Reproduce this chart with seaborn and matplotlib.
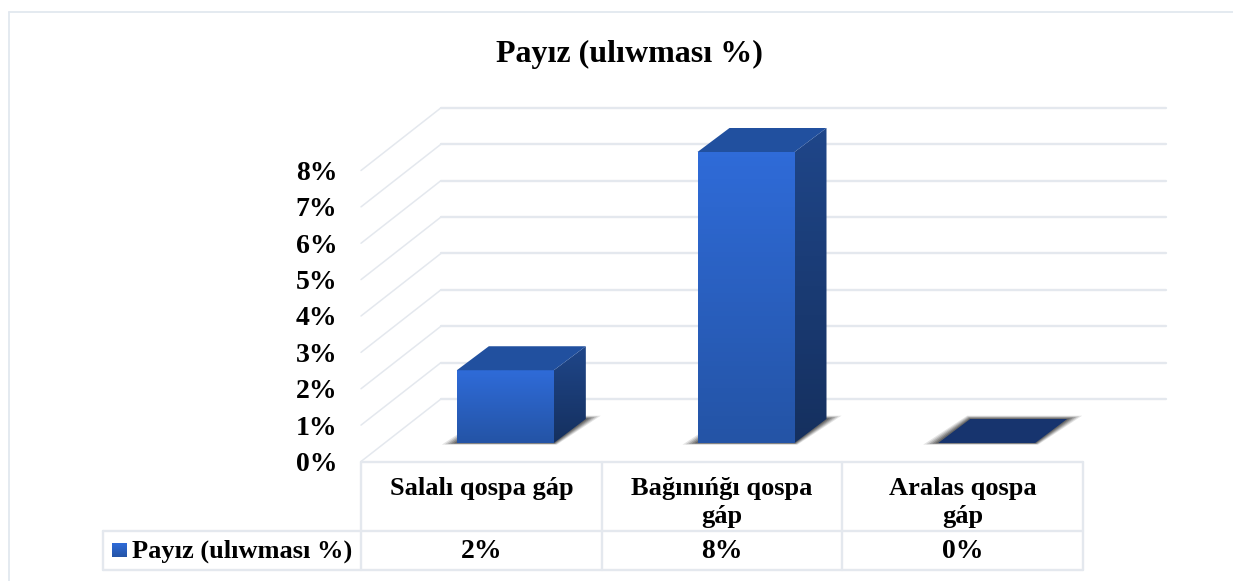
import numpy as np
import pandas as pd
import seaborn as sns
import matplotlib.pyplot as plt
from matplotlib.colors import LinearSegmentedColormap
from matplotlib.patches import Polygon, Rectangle

categories = ['Salalı qospa gáp', 'Bağınıńğı qospa\ngáp', 'Aralas qospa\ngáp']
values = [2, 8, 0]
value_labels = ['2%', '8%', '0%']
series_name = 'Payız (ulıwması %)'
y_ticks = [0, 1, 2, 3, 4, 5, 6, 7, 8]

W, H = 1233, 581
GRID = '#e4e8ee'

# pixel box of the front plane of the chart
LEFT, RIGHT = 361, 1083
ZERO, EIGHT = 461.5, 170.5
UX = (RIGHT - LEFT) / 3
UY = (ZERO - EIGHT) / 8


def px(x, y):
    # reference pixel -> data coords of the main axes
    return (x - LEFT) / UX - 0.5, (ZERO - y) / UY


sns.set_theme(style='white')
plt.rcParams['font.family'] = ['Liberation Serif', 'DejaVu Serif']
plt.rcParams['font.weight'] = 'bold'

fig = plt.figure(figsize=(W / 100, H / 100), dpi=100)
ax = fig.add_axes([LEFT / W, 1 - ZERO / H, (RIGHT - LEFT) / W, (ZERO - EIGHT) / H])

df = pd.DataFrame({'category': categories, 'value': values})

FRONT_X = 24 / UX
FRONT_Y = 18.5 / UY
DEPTH_X = 32 / UX
DEPTH_Y = 24 / UY
BAR_W = 97 / UX

sns.barplot(data=df, x='category', y='value', width=BAR_W, bottom=FRONT_Y,
            color='#2a60c0', saturation=1, ax=ax, zorder=3)
ax.set_xlim(-0.5, 2.5)
ax.set_ylim(0, 8)
ax.set_xlabel('')
ax.set_ylabel('')
for s in ax.spines.values():
    s.set_visible(False)


def gradient(patch, top, bottom, zorder):
    # vertical gradient clipped to the patch
    patch.set_facecolor('none')
    patch.set_edgecolor('none')
    patch.set_clip_on(False)
    ax.add_patch(patch)
    pts = patch.get_path().vertices if isinstance(patch, Polygon) else patch.get_corners()
    x0, x1 = pts[:, 0].min(), pts[:, 0].max()
    y0, y1 = pts[:, 1].min(), pts[:, 1].max()
    cmap = LinearSegmentedColormap.from_list('g', [bottom, top])
    im = ax.imshow(np.linspace(0, 1, 64)[:, None], origin='lower', cmap=cmap, aspect='auto',
                   extent=(x0, x1, y0, y1), zorder=zorder)
    im.set_clip_path(patch)
    im.set_clip_box(fig.bbox)


# wall and floor lines
for v in y_ticks:
    xf, yf = px(LEFT, ZERO - v * UY)
    xb, yb = px(441, 399 - v * 36.4)
    xe, _ = px(1166, 0)
    ax.plot([xf, xb], [yf, yb], color=GRID, lw=1.1, clip_on=False, zorder=1)
    ax.plot([xb, xe], [yb, yb], color=GRID, lw=1.7, clip_on=False, zorder=1)

# bars, with the depth faces and the floor shadow
for i, (bar, v) in enumerate(zip(ax.patches, values)):
    bar.set_x(bar.get_x() + FRONT_X)
    x0, x1 = bar.get_x(), bar.get_x() + BAR_W
    y0 = FRONT_Y
    y1 = y0 + v
    dx, dy = DEPTH_X, DEPTH_Y

    # soft shadow on the floor
    for grow, a in zip([15, 12, 9, 6, 3], [0.13, 0.17, 0.22, 0.28, 0.34]):
        gx, gy = grow / UX, grow * 0.22 / UY
        ax.add_patch(Polygon([(x0 - gx, y0 - gy * 0.5), (x1 + gx * 0.2, y0 - gy * 0.5),
                              (x1 + dx + gx, y0 + dy + gy), (x0 + dx - gx * 0.2, y0 + dy + gy)],
                             facecolor='#303030', edgecolor='none', alpha=a, zorder=2, clip_on=False))

    bar.set_visible(False)
    if v > 0:
        gradient(Rectangle((x0, y0), BAR_W, v), '#2f6bd8', '#2454a6', 4)
        gradient(Polygon([(x1, y0), (x1 + dx, y0 + dy), (x1 + dx, y1 + dy), (x1, y1)]),
                 '#1f4689', '#15305f', 4)
        top_col = '#21509f'
    else:
        top_col = '#17346e'
    ax.add_patch(Polygon([(x0, y1), (x1, y1), (x1 + dx, y1 + dy), (x0 + dx, y1 + dy)],
                         facecolor=top_col, edgecolor='none', zorder=5, clip_on=False))

# axis labels
ax.set_yticks(y_ticks)
ax.set_yticklabels([f'{t}%' for t in y_ticks], fontsize=20, fontweight='bold', color='black')
ax.tick_params(axis='y', length=0, pad=17)
ax.set_xticks([0, 1, 2])
ax.set_xticklabels(categories, fontsize=19, fontweight='bold', color='black', linespacing=1.28)
ax.tick_params(axis='x', length=0, pad=11)

# data table under the chart
row1 = 531
row2 = 569.5
cols = [361, 601.5, 842, 1083]
tx0, _ = px(103, 0)
_, y0t = px(0, 461.5)
_, y1t = px(0, row1)
_, y2t = px(0, row2)
for yy, start in [(y0t, px(361, 0)[0]), (y1t, tx0), (y2t, tx0)]:
    ax.plot([start, 2.5], [yy, yy], color=GRID, lw=1.7, clip_on=False, zorder=1)
for c in cols:
    cx = px(c, 0)[0]
    ax.plot([cx, cx], [y0t, y2t], color=GRID, lw=1.7, clip_on=False, zorder=1)
ax.plot([tx0, tx0], [y1t, y2t], color=GRID, lw=1.7, clip_on=False, zorder=1)

yrow = px(0, 551)[1]
for i, lab in enumerate(value_labels):
    ax.text(i, yrow, lab, ha='center', va='center', fontsize=20, fontweight='bold',
            color='black', clip_on=False)
ax.text(px(132, 0)[0], yrow, series_name, ha='left', va='center', fontsize=19,
        fontweight='bold', color='black', clip_on=False)
sx0, sy0 = px(112, 557)
sx1, sy1 = px(127, 543)
gradient(Rectangle((sx0, sy0), sx1 - sx0, sy1 - sy0), '#2f6bd8', '#2454a6', 4)

ax.set_xlim(-0.5, 2.5)
ax.set_ylim(0, 8)

# chart frame, running off the page on the right and at the bottom
fig.add_artist(plt.Line2D([9 / W, 9 / W], [0, 1 - 12 / H], color='#e2e8ef', lw=1.3))
fig.add_artist(plt.Line2D([9 / W, 1], [1 - 12 / H, 1 - 12 / H], color='#e2e8ef', lw=1.3))

fig.text(629.5 / W, 1 - 54 / H, series_name, ha='center', va='center', fontsize=23,
         fontweight='bold', color='black')

plt.savefig('out.png', dpi=100, facecolor='white')
plt.close()
